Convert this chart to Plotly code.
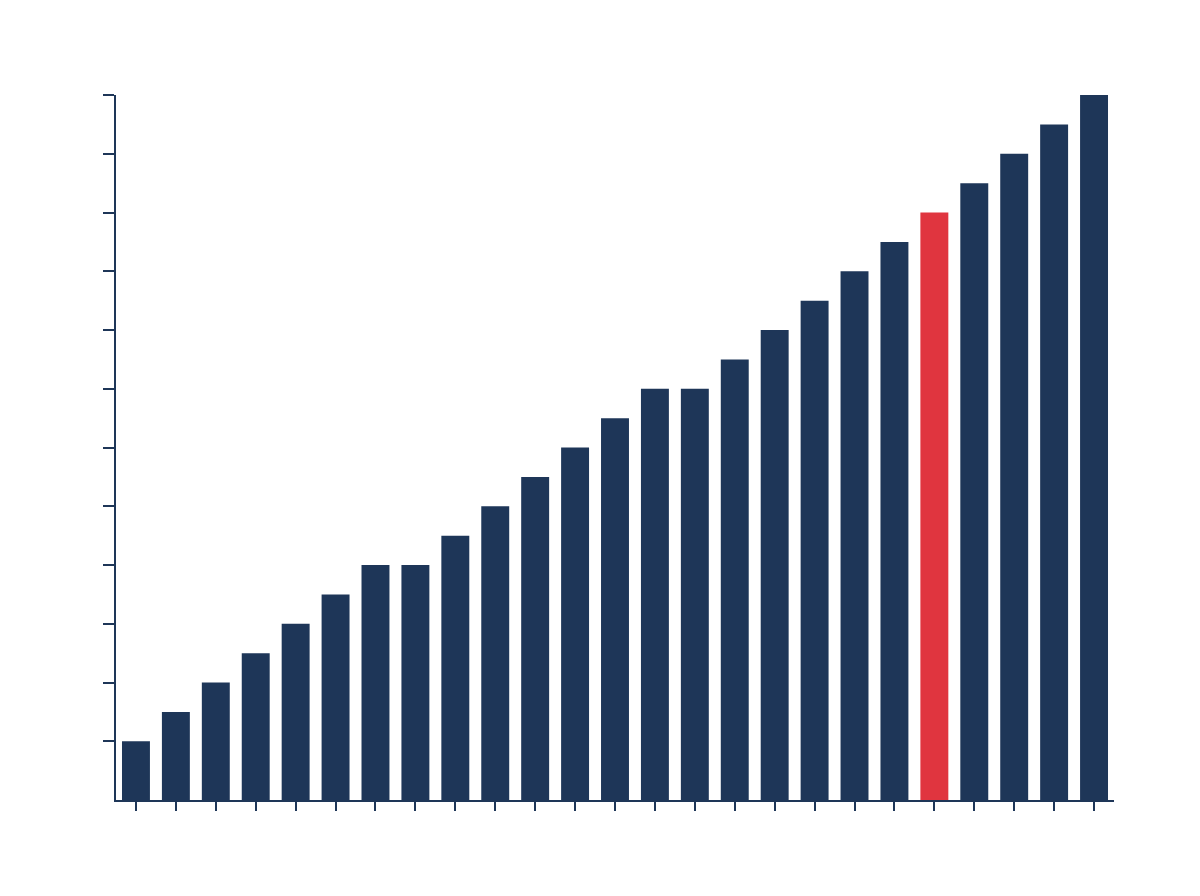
import plotly.graph_objects as go

# data (no labels shown on the original)
categories = [str(i) for i in range(1, 26)]
values = [1, 1.5, 2, 2.5, 3, 3.5, 4, 4, 4.5, 5, 5.5, 6, 6.5,
          7, 7, 7.5, 8, 8.5, 9, 9.5, 10, 10.5, 11, 11.5, 12]
highlight = "21"
y_ticks = list(range(1, 13))  # no tick drawn at zero

NAVY = "#1e3658"
RED = "#e0353f"

colors = [RED if c == highlight else NAVY for c in categories]

fig = go.Figure(go.Bar(x=categories, y=values, marker_color=colors,
                       marker_line_width=0))

fig.update_layout(
    width=1200, height=896,
    margin=dict(l=108, r=94, t=87, b=104),
    plot_bgcolor="white", paper_bgcolor="white",
    bargap=0.3, showlegend=False,
)
fig.update_xaxes(
    showgrid=False, showline=True, linecolor=NAVY, linewidth=2,
    ticks="outside", ticklen=9, tickwidth=1.5, tickcolor=NAVY,
    showticklabels=False, range=[-0.5, 24.5],
)
fig.update_yaxes(
    showgrid=False, zeroline=False, showline=True, linecolor=NAVY, linewidth=2,
    ticks="outside", ticklen=11, tickwidth=1.5, tickcolor=NAVY,
    showticklabels=False, range=[0, 12], tickvals=y_ticks,
)

fig.write_html("out.html")
